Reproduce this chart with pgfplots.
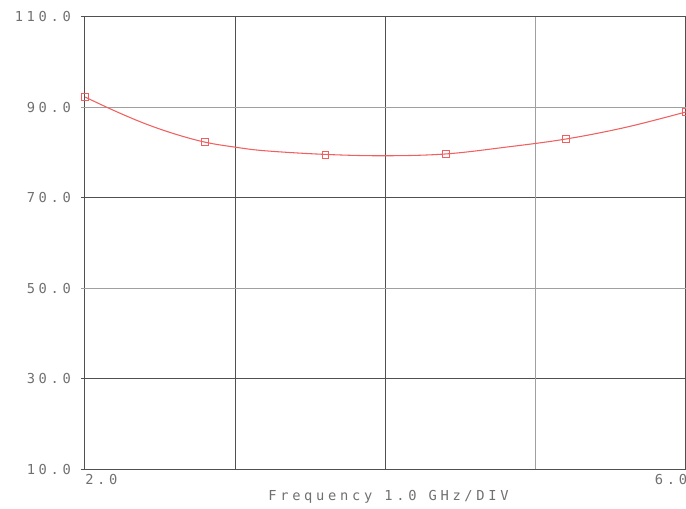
\documentclass[border=0pt]{standalone}
\usepackage{pgfplots}
\pgfplotsset{compat=1.18}
\usepackage{fontspec}
\setmainfont[LetterSpace=27]{DejaVu Sans Mono}
\definecolor{txt}{HTML}{707070}
\definecolor{dk}{HTML}{505050}
\definecolor{lt}{HTML}{A0A0A0}
\definecolor{crv}{HTML}{F06060}
\begin{document}
\begin{tikzpicture}
\useasboundingbox (-63.75pt,-29.25pt) rectangle (450.75pt,351.75pt);
\begin{axis}[
  at={(0,0)}, anchor=south west,
  scale only axis, width=450.75pt, height=339pt,
  xmin=2, xmax=6, ymin=10, ymax=110,
  axis line style={draw=dk, line width=0.75pt},
  xtick={2,3,4,6}, xticklabels={},
  extra x ticks={5}, extra x tick labels={},
  extra x tick style={grid style={lt, line width=0.9pt}},
  ytick={10,30,70,110},
  yticklabels={10.0,30.0,70.0,110.0},
  extra y ticks={50,90}, extra y tick labels={50.0,90.0},
  extra y tick style={grid style={lt, line width=0.9pt}, tick style={lt, line width=0.9pt}},
  grid=major, grid style={dk, line width=0.75pt},
  tick style={dk, line width=0.75pt},
  tick align=outside, major tick length=3pt,
  xtick style={draw=none},
  yticklabel style={text=txt, font=\fontsize{10.3}{12}\selectfont, anchor=east, xshift=-4pt},
  every x tick label/.append style={text=txt},
  clip=false,
]
\addplot[crv, line width=0.8pt, smooth, tension=0.6] coordinates {
 (2.0,92.3) (2.2,89.2) (2.4,86.4) (2.6,84.1) (2.8,82.3) (3.0,81.2) (3.2,80.4) (3.6,79.6) (4.0,79.3)
 (4.4,79.7) (4.8,81.2) (5.2,83.0) (5.6,85.6) (6.0,89.0)
};
\addplot[crv, only marks, mark=square, mark size=2.6pt, mark options={line width=0.6pt}] coordinates {
 (2.0,92.3) (2.8,82.3) (3.6,79.5) (4.4,79.7) (5.2,83.0) (6.0,89.0)
};
\node[anchor=north west, text=txt, font=\fontsize{10.3}{12}\selectfont, inner sep=0pt] at ([yshift=-4pt]axis cs:2,10) {2.0};
\node[anchor=north west, text=txt, font=\fontsize{10.3}{12}\selectfont, inner sep=0pt] at ([yshift=-4pt,xshift=-23.5pt]axis cs:6,10) {6.0};
\node[anchor=center, text=txt, font=\fontsize{10.3}{12}\selectfont, inner sep=0pt] at ([yshift=-21pt]axis cs:4.02,10) {Frequency 1.0 GHz/DIV};
\end{axis}
\end{tikzpicture}
\end{document}
